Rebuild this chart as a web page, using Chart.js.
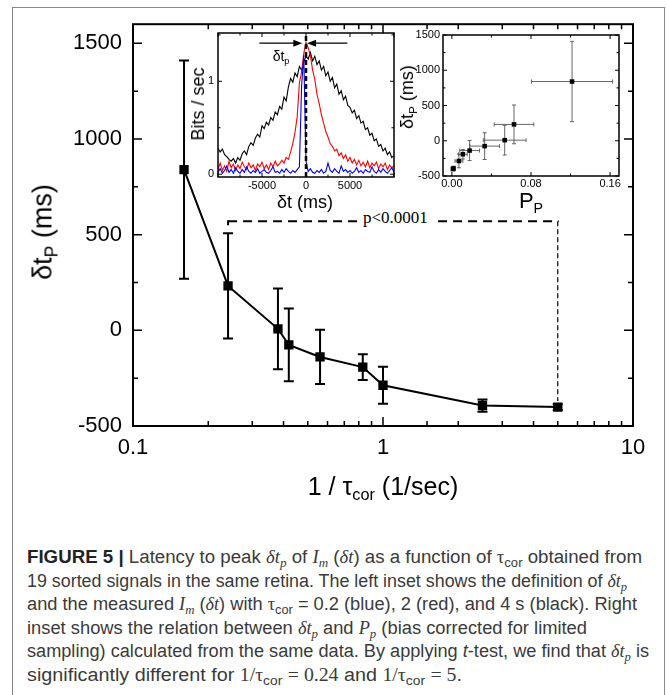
<!DOCTYPE html>
<html>
<head>
<meta charset="utf-8">
<title>Figure 5</title>
<script src="https://cdn.jsdelivr.net/npm/chart.js@4.4.1/dist/chart.umd.min.js"></script>
<style>
  body { margin: 0; background: #fff; }
  #fig { position: relative; width: 667px; height: 695px; overflow: hidden; font-family: "Liberation Sans", Arial, sans-serif; color: #000; }
  #fig canvas { position: absolute; left: 0; top: 0; }
  .frame { position: absolute; left: 12px; top: 7px; width: 653px; height: 720px; border: 1px solid #888; box-sizing: border-box; }
  .lbl { position: absolute; white-space: nowrap; line-height: 1; transform: translate(-50%, -50%); }
  .rot { transform: translate(-50%, -50%) rotate(-90deg); }
  .lbl sub { font-size: 65%; vertical-align: -0.35em; line-height: 0; }
  .pval { position: absolute; left: 357px; top: 208px; line-height: 20px; padding: 0 10px 0 6px; background: #fff;
          font-family: "Liberation Serif", "Times New Roman", serif; font-size: 17px; }
  #caption { position: absolute; left: 27px; top: 546px; font-family: "Liberation Sans", Arial, sans-serif;
             font-size: 18px; line-height: 23.5px; color: #3a3a3a; }
  #caption .cl { white-space: nowrap; height: 23.5px; }
  #caption .cl > span { display: inline-block; transform-origin: 0 50%; }
  #caption b { color: #222; }
  #caption .mt { font-family: "Liberation Serif", "DejaVu Serif", serif; }
  #caption sub { font-size: 70%; vertical-align: -0.3em; line-height: 0; }
</style>
</head>
<body>
<div id="fig">
  <div class="frame"></div>
  <canvas id="main" width="667" height="520"></canvas>
  <canvas id="insetLeft" width="667" height="520"></canvas>
  <canvas id="insetRight" width="667" height="520"></canvas>

  <div class="lbl rot" style="left:43px;top:232px;font-size:27px">δt<sub>P</sub> (ms)</div>
  <div class="lbl" style="left:383px;top:486px;font-size:25px">1 / τ<sub>cor</sub> (1/sec)</div>
  <div class="pval">p&lt;0.0001</div>

  <div class="lbl rot" style="left:198px;top:104px;font-size:18px">Bits / sec</div>
  <div class="lbl" style="left:305px;top:202px;font-size:18px">δt (ms)</div>
  <div class="lbl" style="left:281px;top:56px;font-size:14px">δt<sub>p</sub></div>

  <div class="lbl rot" style="left:407px;top:97px;font-size:18px">δt<sub>P</sub> (ms)</div>
  <div class="lbl" style="left:531px;top:201px;font-size:22px">P<sub>P</sub></div>

  <div id="caption">
    <div class="cl"><span><b>FIGURE 5 |</b> Latency to peak <i class="mt">δt<sub>p</sub></i> of <i class="mt">I<sub>m</sub></i> (<i class="mt">δt</i>) as a function of <span class="mt">τ</span><sub>cor</sub> obtained from</span></div>
    <div class="cl"><span>19 sorted signals in the same retina. The left inset shows the definition of <i class="mt">δt<sub>p</sub></i></span></div>
    <div class="cl"><span>and the measured <i class="mt">I<sub>m</sub></i> (<i class="mt">δt</i>) with <span class="mt">τ</span><sub>cor</sub> = 0.2 (blue), 2 (red), and 4 s (black). Right</span></div>
    <div class="cl"><span>inset shows the relation between <i class="mt">δt<sub>p</sub></i> and <i class="mt">P<sub>p</sub></i> (bias corrected for limited</span></div>
    <div class="cl"><span>sampling) calculated from the same data. By applying <i>t</i>-test, we find that <i class="mt">δt<sub>p</sub></i> is</span></div>
    <div class="cl"><span>significantly different for <span class="mt">1/τ</span><sub>cor</sub> <span class="mt">= 0.24</span> and <span class="mt">1/τ</span><sub>cor</sub> <span class="mt">= 5</span>.</span></div>
  </div>
</div>

<script>
// main panel: latency to peak vs 1/tau_cor
const rate = [0.16, 0.24, 0.38, 0.42, 0.56, 0.83, 1.0, 2.5, 5.0];
const latency = [840, 232, 8, -76, -139, -192, -287, -393, -401];
const latencyErr = [570, 275, 211, 190, 142, 67, 97, 32, 15];
const sigPair = [1, 8];     // t-test between 1/tau = 0.24 and 5
const sigLevel = 570;       // height of the bracket (ms)

// right inset: bias corrected P_p for the same points
const peakP = [0.1215, 0.0628, 0.0534, 0.0331, 0.0179, 0.0111, 0.0071, 0.0017, 0.0010];
const peakPErr = [0.041, 0.020, 0.0216, 0.015, 0.010, 0.0044, 0.004, 0.001, 0.001];

// left inset: I_m(dt) traces, 250 ms bins from -10000 to 10000
const dtStep = 250;
const dt = [];
for (let t = -10000; t <= 10000; t += dtStep) dt.push(t);
const blueTrace = [
  0.02, 0.06, 0.01, 0.04, 0.09, 0.02, 0.05, 0.01, 0.07, 0.03,
  0.01, 0.05, 0.02, 0.08, 0.03, 0.01, 0.04, 0.02, 0.06, 0.01,
  0.03, 0.05, 0.02, 0.01, 0.04, 0.08, 0.02, 0.03, 0.01, 0.05,
  0.02, 0.06, 0.03, 0.01, 0.04, 0.02, 0.05, 0.08, 0.95, 1.28,
  0.14, 0.03, 0.06, 0.02, 0.01, 0.04, 0.02, 0.05, 0.01, 0.03,
  0.12, 0.04, 0.02, 0.06, 0.03, 0.01, 0.09, 0.03, 0.05, 0.02,
  0.04, 0.01, 0.03, 0.07, 0.02, 0.04, 0.01, 0.05, 0.03, 0.02,
  0.08, 0.03, 0.01, 0.05, 0.02, 0.06, 0.03, 0.01, 0.04, 0.07, 0.02
];
const redTrace = [
  0.05, 0.12, 0.04, 0.09, 0.03, 0.14, 0.07, 0.11, 0.04, 0.10,
  0.06, 0.13, 0.08, 0.05, 0.12, 0.07, 0.10, 0.04, 0.11, 0.08,
  0.13, 0.06, 0.10, 0.05, 0.12, 0.08, 0.14, 0.09, 0.11, 0.15,
  0.12, 0.18, 0.16, 0.24, 0.33, 0.45, 0.62, 0.98, 1.10, 1.30,
  1.42, 1.36, 1.28, 1.12, 1.02, 0.86, 0.76, 0.64, 0.55, 0.46,
  0.40, 0.33, 0.30, 0.25, 0.27, 0.20, 0.23, 0.17, 0.21, 0.14,
  0.18, 0.12, 0.16, 0.10, 0.15, 0.09, 0.13, 0.08, 0.14, 0.07,
  0.12, 0.09, 0.13, 0.06, 0.11, 0.08, 0.12, 0.05, 0.10, 0.07, 0.09
];
const blackTrace = [
  0.28, 0.24, 0.27, 0.21, 0.19, 0.16, 0.14, 0.17, 0.12, 0.18,
  0.15, 0.22, 0.25, 0.21, 0.30, 0.34, 0.31, 0.39, 0.43, 0.40,
  0.52, 0.49, 0.56, 0.53, 0.61, 0.58, 0.67, 0.64, 0.73, 0.70,
  0.83, 0.79, 0.94, 1.03, 0.99, 1.09, 1.05, 1.16, 1.12, 1.21,
  1.27, 1.24, 1.31, 1.22, 1.27, 1.18, 1.22, 1.12, 1.16, 1.06,
  1.10, 1.00, 1.04, 0.93, 0.97, 0.86, 0.90, 0.80, 0.84, 0.74,
  0.72, 0.66, 0.69, 0.60, 0.63, 0.55, 0.57, 0.48, 0.50, 0.42,
  0.44, 0.36, 0.38, 0.30, 0.32, 0.25, 0.28, 0.21, 0.24, 0.18, 0.20
];
const peakArrowY = 1.41;
const leftArrow = [-5300, -420];
const rightArrow = [4700, 120];

const W = 667, H = 520;
const mainBox = { left: 133, top: 21, right: 633, bottom: 426 };
const leftBox = { left: 218, top: 33, right: 394, bottom: 177 };
const rightBox = { left: 443, top: 35, right: 619, bottom: 176 };
const captionWidths = [615, 600, 610, 560, 622, 435];

// y axis fills everything left of the box, x axis everything below it
function placeBox(b) {
  return {
    padding: { left: 0, top: b.top, right: W - b.right, bottom: 0 },
    fitY: s => { s.width = b.left; },
    fitX: s => { s.height = H - b.bottom; }
  };
}
const near = (a, b) => Math.abs(a - b) < 1e-6;
const isDecade = v => near(Math.log10(v), Math.round(Math.log10(v)));

function frameTicks(o) {
  return {
    id: 'frameTicks',
    afterDraw(chart) {
      const { ctx, chartArea: a, scales: { x, y } } = chart;
      ctx.save();
      ctx.strokeStyle = '#000';
      ctx.lineWidth = o.width;
      ctx.strokeRect(a.left, a.top, a.right - a.left, a.bottom - a.top);
      ctx.lineWidth = o.tickWidth;
      ctx.beginPath();
      x.ticks.forEach(t => {
        const px = x.getPixelForValue(t.value);
        if (px < a.left - 0.5 || px > a.right + 0.5) return;
        const len = o.majorX(t.value) ? o.major : o.minor;
        ctx.moveTo(px, a.bottom); ctx.lineTo(px, a.bottom - len);
        ctx.moveTo(px, a.top); ctx.lineTo(px, a.top + len);
      });
      y.ticks.forEach(t => {
        const py = y.getPixelForValue(t.value);
        if (py < a.top - 0.5 || py > a.bottom + 0.5) return;
        const len = o.majorY(t.value) ? o.major : o.minor;
        ctx.moveTo(a.left, py); ctx.lineTo(a.left + len, py);
        ctx.moveTo(a.right, py); ctx.lineTo(a.right - len, py);
      });
      ctx.stroke();
      ctx.restore();
    }
  };
}

function errorBars(o) {
  return {
    id: 'errorBars',
    beforeDatasetsDraw(chart) {
      const { ctx, scales: { x, y } } = chart;
      ctx.save();
      ctx.strokeStyle = o.color;
      ctx.lineWidth = o.width;
      ctx.beginPath();
      o.xs.forEach((xv, i) => {
        const px = x.getPixelForValue(xv), py = y.getPixelForValue(o.ys[i]);
        if (o.yErr) {
          const t = y.getPixelForValue(o.ys[i] + o.yErr[i]), b = y.getPixelForValue(o.ys[i] - o.yErr[i]);
          ctx.moveTo(px, t); ctx.lineTo(px, b);
          ctx.moveTo(px - o.cap, t); ctx.lineTo(px + o.cap, t);
          ctx.moveTo(px - o.cap, b); ctx.lineTo(px + o.cap, b);
        }
        if (o.xErr) {
          const l = x.getPixelForValue(xv - o.xErr[i]), r = x.getPixelForValue(xv + o.xErr[i]);
          ctx.moveTo(l, py); ctx.lineTo(r, py);
          ctx.moveTo(l, py - o.cap); ctx.lineTo(l, py + o.cap);
          ctx.moveTo(r, py - o.cap); ctx.lineTo(r, py + o.cap);
        }
      });
      ctx.stroke();
      ctx.restore();
    }
  };
}

const sigBracket = {
  id: 'sigBracket',
  afterDatasetsDraw(chart) {
    const { ctx, scales: { x, y } } = chart;
    const x1 = x.getPixelForValue(rate[sigPair[0]]);
    const x2 = x.getPixelForValue(rate[sigPair[1]]);
    const yb = y.getPixelForValue(sigLevel);
    ctx.save();
    ctx.strokeStyle = '#000';
    ctx.lineWidth = 2;
    ctx.setLineDash([9, 6]);
    ctx.beginPath(); ctx.moveTo(x1, yb); ctx.lineTo(x2 + 1, yb); ctx.stroke();
    ctx.setLineDash([]);
    ctx.beginPath(); ctx.moveTo(x1, yb - 1); ctx.lineTo(x1, yb + 4); ctx.stroke();
    ctx.lineWidth = 1.2;
    ctx.setLineDash([5, 3]);
    ctx.beginPath(); ctx.moveTo(x2, yb); ctx.lineTo(x2, y.getPixelForValue(latency[sigPair[1]]) - 6); ctx.stroke();
    ctx.restore();
  }
};

const commonOpts = {
  responsive: false, animation: false, devicePixelRatio: 1, events: [],
  plugins: { legend: { display: false }, tooltip: { enabled: false } }
};

const mainPlace = placeBox(mainBox);
new Chart(document.getElementById('main'), {
  type: 'scatter',
  data: {
    datasets: [{
      data: rate.map((r, i) => ({ x: r, y: latency[i] })),
      showLine: true, borderColor: '#000', borderWidth: 2,
      pointStyle: 'rect', pointRadius: 6.6, pointBorderWidth: 0, pointBackgroundColor: '#000'
    }]
  },
  options: Object.assign({}, commonOpts, {
    layout: { padding: mainPlace.padding },
    scales: {
      x: {
        type: 'logarithmic', min: 0.1, max: 10, afterFit: mainPlace.fitX,
        grid: { display: false, drawTicks: false }, border: { display: false },
        ticks: { autoSkip: false, maxRotation: 0, padding: 9, color: '#000',
                 font: { family: 'Liberation Sans', size: 22 },
                 callback: v => isDecade(v) ? String(v) : '' }
      },
      y: {
        min: -500, max: 1600, afterFit: mainPlace.fitY,
        grid: { display: false, drawTicks: false }, border: { display: false },
        ticks: { stepSize: 250, includeBounds: false, padding: 11, color: '#000',
                 font: { family: 'Liberation Sans', size: 22 },
                 callback: v => v % 500 === 0 ? String(v) : '' }
      }
    }
  }),
  plugins: [
    errorBars({ xs: rate, ys: latency, yErr: latencyErr, cap: 5, width: 2, color: '#000' }),
    sigBracket,
    frameTicks({ width: 2, tickWidth: 1.5, major: 9, minor: 5,
                 majorX: isDecade, majorY: v => v % 500 === 0 })
  ]
});

const zeroAndArrows = {
  id: 'zeroAndArrows',
  afterDatasetsDraw(chart) {
    const { ctx, chartArea: a, scales: { x, y } } = chart;
    ctx.save();
    ctx.strokeStyle = '#000';
    ctx.fillStyle = '#000';
    const x0 = x.getPixelForValue(0);
    ctx.lineWidth = 2.5;
    ctx.setLineDash([5, 3]);
    ctx.beginPath(); ctx.moveTo(x0, a.bottom); ctx.lineTo(x0, a.top); ctx.stroke();
    ctx.setLineDash([]);
    ctx.lineWidth = 1.3;
    const ya = y.getPixelForValue(peakArrowY);
    [leftArrow, rightArrow].forEach(([from, to]) => {
      const p1 = x.getPixelForValue(from), p2 = x.getPixelForValue(to);
      const d = Math.sign(p2 - p1);
      ctx.beginPath(); ctx.moveTo(p1, ya); ctx.lineTo(p2 - d * 6, ya); ctx.stroke();
      ctx.beginPath(); ctx.moveTo(p2, ya); ctx.lineTo(p2 - d * 9, ya - 3.5); ctx.lineTo(p2 - d * 9, ya + 3.5); ctx.closePath(); ctx.fill();
    });
    ctx.restore();
  }
};

const traceSet = (arr, color) => ({
  data: dt.map((t, i) => ({ x: t, y: arr[i] })),
  borderColor: color, borderWidth: 1.1, pointRadius: 0, tension: 0
});

const leftPlace = placeBox(leftBox);
new Chart(document.getElementById('insetLeft'), {
  type: 'line',
  data: { datasets: [traceSet(blueTrace, '#0000ff'), traceSet(redTrace, '#ff0000'), traceSet(blackTrace, '#000000')] },
  options: Object.assign({}, commonOpts, {
    layout: { padding: leftPlace.padding },
    scales: {
      x: {
        type: 'linear', min: -10000, max: 10000, afterFit: leftPlace.fitX,
        grid: { display: false, drawTicks: false }, border: { display: false },
        ticks: { stepSize: 2500, autoSkip: false, maxRotation: 0, padding: 2, color: '#000',
                 font: { family: 'Liberation Sans', size: 11 },
                 callback: v => (v % 5000 === 0 && Math.abs(v) < 10000) ? String(v) : '' }
      },
      y: {
        min: -0.03, max: 1.52, afterFit: leftPlace.fitY,
        grid: { display: false, drawTicks: false }, border: { display: false },
        ticks: { stepSize: 0.5, includeBounds: false, padding: 4, color: '#000',
                 font: { family: 'Liberation Sans', size: 11 },
                 callback: v => (v === 0 || v === 1) ? String(v) : '' }
      }
    }
  }),
  plugins: [
    zeroAndArrows,
    frameTicks({ width: 1.5, tickWidth: 1, major: 4, minor: 2.5,
                 majorX: v => v % 5000 === 0, majorY: v => near(v, Math.round(v)) })
  ]
});

const rightPlace = placeBox(rightBox);
new Chart(document.getElementById('insetRight'), {
  type: 'scatter',
  data: {
    datasets: [{
      data: peakP.map((p, i) => ({ x: p, y: latency[i] })),
      pointStyle: 'rect', pointRadius: 3.2, pointBorderWidth: 0, pointBackgroundColor: '#000'
    }]
  },
  options: Object.assign({}, commonOpts, {
    layout: { padding: rightPlace.padding },
    scales: {
      x: {
        min: -0.009, max: 0.169, afterFit: rightPlace.fitX,
        grid: { display: false, drawTicks: false }, border: { display: false },
        ticks: { stepSize: 0.04, includeBounds: false, autoSkip: false, maxRotation: 0, padding: 1, color: '#000',
                 font: { family: 'Liberation Sans', size: 11 },
                 callback: v => near(v / 0.08, Math.round(v / 0.08)) ? v.toFixed(2) : '' }
      },
      y: {
        min: -500, max: 1500, afterFit: rightPlace.fitY,
        grid: { display: false, drawTicks: false }, border: { display: false },
        ticks: { stepSize: 250, padding: 3, color: '#000',
                 font: { family: 'Liberation Sans', size: 11 },
                 callback: v => v % 500 === 0 ? String(v) : '' }
      }
    }
  }),
  plugins: [
    errorBars({ xs: peakP, ys: latency, yErr: latencyErr, xErr: peakPErr, cap: 2, width: 0.9, color: '#555' }),
    frameTicks({ width: 1.5, tickWidth: 1, major: 4, minor: 2.5,
                 majorX: v => near(v / 0.08, Math.round(v / 0.08)), majorY: v => v % 500 === 0 })
  ]
});

// squeeze each caption line to the width it has in the figure
function fitCaption() {
  document.querySelectorAll('#caption .cl > span').forEach((s, i) => {
    s.style.transform = 'none';
    const w = s.getBoundingClientRect().width;
    s.style.transform = 'scaleX(' + (captionWidths[i] / w) + ')';
  });
}
fitCaption();
if (document.fonts) document.fonts.ready.then(fitCaption);
</script>
</body>
</html>
